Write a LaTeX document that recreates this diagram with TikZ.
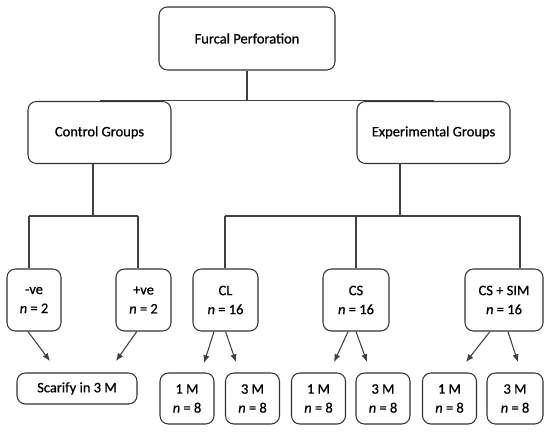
\documentclass[tikz,border=0pt]{standalone}
\usepackage{fontspec}
\setmainfont{Carlito}[FakeBold=0.8]
\usepackage{tikz}
\usetikzlibrary{arrows.meta}

\tikzset{
  box/.style={draw=black!80, line width=0.75pt, rounded corners=6pt, align=center, inner sep=0pt},
  link/.style={draw=black!75, line width=0.75pt},
  arr/.style={link, -{Latex[length=5.5pt,width=4.5pt]}}
}

\begin{document}
\begin{tikzpicture}
            \fontsize{10.3}{13.5}\selectfont
            \useasboundingbox (0,0) rectangle (13.75,-10.8);

            % Top
            \node[box, minimum width=4.4cm, minimum height=1.575cm] (top) at (6.175,-0.9625) {Furcal Perforation};

            % Groups
            \node[box, minimum width=3.575cm, minimum height=1.55cm] (ctrl) at (2.4875,-3.3125) {Control Groups};
            \node[box, minimum width=3.825cm, minimum height=1.55cm] (exp) at (10.8375,-3.3125) {Experimental Groups};

            % Subgroups
            \node[box, minimum width=1.35cm, minimum height=1.55cm] (neg) at (0.85,-7.5) {-ve\\\textit{n} = 2};
            \node[box, minimum width=1.375cm, minimum height=1.55cm] (pos) at (3.5875,-7.5) {+ve\\\textit{n} = 2};
            \node[box, minimum width=1.625cm, minimum height=1.55cm] (cl) at (5.6375,-7.5) {CL\\\textit{n} = 16};
            \node[box, minimum width=1.65cm, minimum height=1.55cm] (cs) at (8.9,-7.5) {CS\\\textit{n} = 16};
            \node[box, minimum width=1.95cm, minimum height=1.55cm] (sim) at (12.6,-7.5) {CS + SIM\\\textit{n} = 16};

            % Periods
            \node[box, minimum width=3cm, minimum height=0.775cm] (scar) at (1.925,-9.7125) {Scarify in 3 M};
            \node[box, minimum width=1.35cm, minimum height=1.275cm] (cl1) at (4.675,-9.9625) {1 M\\\textit{n} = 8};
            \node[box, minimum width=1.35cm, minimum height=1.275cm] (cl3) at (6.3125,-9.9625) {3 M\\\textit{n} = 8};
            \node[box, minimum width=1.35cm, minimum height=1.275cm] (cs1) at (7.9625,-9.9625) {1 M\\\textit{n} = 8};
            \node[box, minimum width=1.35cm, minimum height=1.275cm] (cs3) at (9.575,-9.9625) {3 M\\\textit{n} = 8};
            \node[box, minimum width=1.35cm, minimum height=1.275cm] (sim1) at (11.2375,-9.9625) {1 M\\\textit{n} = 8};
            \node[box, minimum width=1.4cm, minimum height=1.275cm] (sim3) at (12.875,-9.9625) {3 M\\\textit{n} = 8};

            % Bracket points
            \coordinate (cb) at (2.325,-5.4);
            \coordinate (cbl) at (0.725,-5.4);
            \coordinate (cbr) at (3.45,-5.4);
            \coordinate (eb) at (10,-5.4);
            \coordinate (ebl) at (5.625,-5.4);
            \coordinate (ebm) at (8.9,-5.4);
            \coordinate (ebr) at (13,-5.4);

            % Tree lines
            \draw[link] (top.south) -- (top.south |- ctrl.north);
            \draw[link] (ctrl.north) -- (exp.north);
            \draw[link] (cb |- ctrl.south) -- (cb);
            \draw[link] (cbl) -- (cbr);
            \draw[link] (cbl) -- (cbl |- neg.north);
            \draw[link] (cbr) -- (cbr |- pos.north);
            \draw[link] (eb |- exp.south) -- (eb);
            \draw[link] (ebl) -- (ebr);
            \draw[link] (ebl) -- (ebl |- cl.north);
            \draw[link] (ebm) -- (ebm |- cs.north);
            \draw[link] (ebr) -- (ebr |- sim.north);

            % Arrow ends
            \coordinate (t1) at (1.25,-9.025);
            \coordinate (t2) at (2.9,-9.025);
            \coordinate (t3) at (5.1,-9.075);
            \coordinate (t4) at (5.9,-9.05);
            \coordinate (t5) at (8.35,-9.05);
            \coordinate (t6) at (9.175,-9.05);
            \coordinate (t7) at (11.65,-9.05);
            \coordinate (t8) at (12.95,-9.05);

            % Arrows
            \draw[arr] (neg.-101) -- (t1);
            \draw[arr] (pos.-102) -- (t2);
            \draw[arr] (cl.-110) -- (t3);
            \draw[arr] (cl.south) -- (t4);
            \draw[arr] (cs.-104) -- (t5);
            \draw[arr] (cs.south) -- (t6);
            \draw[arr] (sim.-114) -- (t7);
            \draw[arr] (sim.-83) -- (t8);
        \end{tikzpicture}
\end{document}
